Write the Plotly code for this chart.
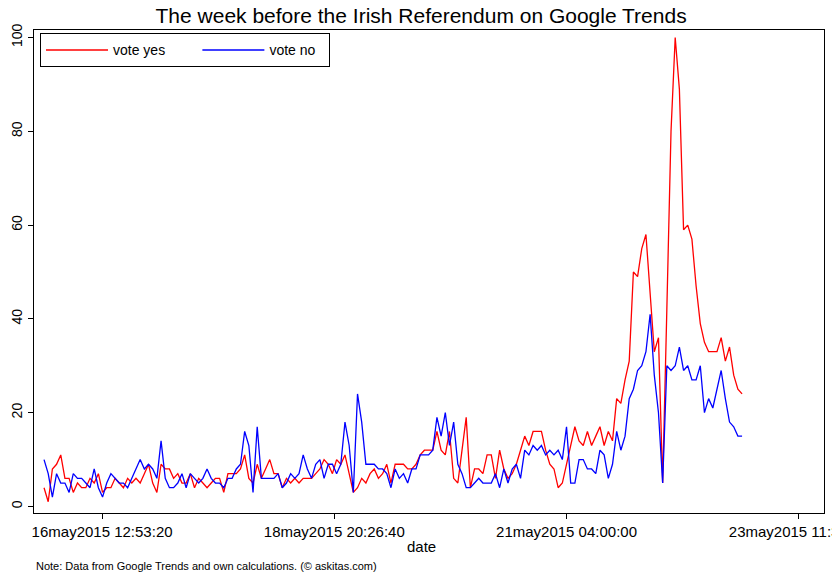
import pandas as pd
import plotly.graph_objects as go

# hourly Google Trends index, one week
start_time = "2015-05-15 23:00"
n_hours = 168

vote_yes = [
    4, 1, 8, 9, 11, 6, 6, 3, 5, 4, 4, 6, 5, 7, 3, 4, 4, 6, 5, 4, 6, 5, 6, 5, 7, 9, 5,
    3, 9, 8, 8, 6, 7, 5, 5, 7, 4, 6, 5, 4, 5, 6, 6, 3, 7, 7, 7, 8, 11, 6, 5, 9, 6, 8, 10, 7,
    7, 4, 6, 5, 6, 5, 6, 6, 6, 7, 8, 10, 9, 7, 10, 9, 11, 7, 3, 4, 6, 5, 7, 8, 6, 7, 9, 5,
    9, 9, 9, 8, 8, 9, 11, 12, 12, 12, 16, 12, 11, 16, 6, 5, 12, 19, 4, 8, 8, 7, 11, 11, 6, 12, 8, 6, 7,
    9, 12, 15, 13, 16, 16, 16, 12, 9, 8, 4, 5, 9, 13, 17, 14, 13, 16, 13, 15,
    17, 13, 16, 14, 23, 22, 27, 31, 50, 49, 55, 58, 46, 33, 36, 5, 42, 80, 100, 89,
    59, 60, 57, 47, 39, 35, 33, 33, 33, 36, 31, 34, 28, 25, 24,
]
vote_no = [
    10, 7, 2, 7, 5, 5, 3, 7, 6, 6, 5, 4, 8, 4, 2, 5, 7, 6, 5, 5, 4, 6, 8, 10, 8, 9, 8,
    6, 14, 6, 4, 4, 5, 7, 4, 7, 6, 5, 6, 8, 6, 5, 5, 4, 6, 6, 8, 9, 16, 13, 3, 17, 6, 6, 6, 6,
    7, 4, 5, 7, 6, 7, 11, 8, 6, 9, 10, 6, 9, 9, 7, 9, 18, 13, 3, 24, 18, 9, 9, 9, 8, 8, 7, 4,
    8, 6, 7, 5, 8, 8, 11, 11, 11, 12, 19, 15, 20, 13, 18, 9, 7, 4, 4, 5, 6, 5, 5, 5, 7, 4, 8, 5, 8,
    9, 6, 12, 11, 13, 12, 13, 11, 12, 11, 12, 10, 17, 5, 5, 10, 10, 8, 8, 7,
    12, 11, 6, 9, 16, 12, 15, 23, 25, 29, 30, 33, 41, 28, 20, 5, 30, 29, 30, 34,
    29, 30, 27, 27, 30, 20, 23, 21, 25, 29, 23, 18, 17, 15, 15,
]

x_tick_values = ["2015-05-16 12:53:20", "2015-05-18 20:26:40",
                 "2015-05-21 04:00:00", "2015-05-23 11:33:20"]
x_tick_labels = ["16may2015 12:53:20", "18may2015 20:26:40",
                 "21may2015 04:00:00", "23may2015 11:33:20"]
y_tick_values = [0, 20, 40, 60, 80, 100]

series_names = ["vote yes", "vote no"]
series_colors = ["#FF0000", "#0000FF"]

times = pd.date_range(start=start_time, periods=n_hours, freq="h")

FONT = "Liberation Sans, Arial, Helvetica, sans-serif"
NBSP = "\u00a0"
legend_pad = [NBSP * 7, NBSP * 2]

fig = go.Figure()
for name, vals, col, pad in zip(series_names, [vote_yes, vote_no], series_colors, legend_pad):
    fig.add_trace(go.Scatter(x=times, y=vals, mode="lines", name=name + pad,
                             line=dict(color=col, width=1.3)))

x_lo = times[0] - pd.Timedelta(hours=2.4)
x_hi = times[0] + pd.Timedelta(hours=186.6)

fig.update_layout(
    width=832, height=575,
    margin=dict(l=34, r=8, t=30, b=62, autoexpand=False),
    paper_bgcolor="white", plot_bgcolor="white",
    font=dict(family=FONT, size=14, color="black"),
    title=dict(text="The week before the Irish Referendum on Google Trends",
               x=0.49, xref="paper", xanchor="center", y=0.972, yref="container",
               yanchor="middle", font=dict(size=21, family=FONT, color="black")),
    showlegend=True,
    legend=dict(orientation="h", x=0.0076, y=0.993, xanchor="left", yanchor="top",
                bgcolor="white", bordercolor="black", borderwidth=1,
                font=dict(size=14, family=FONT), itemwidth=62,
                tracegroupgap=0),
    xaxis=dict(range=[x_lo, x_hi], tickvals=x_tick_values, ticktext=x_tick_labels,
               ticks="outside", ticklen=5, tickcolor="black", showline=True,
               linecolor="black", linewidth=1, mirror=True, showgrid=False,
               zeroline=False, tickfont=dict(size=15), ticklabeloverflow="allow",
               automargin=False),
    yaxis=dict(range=[-1.39, 101.6], tickvals=y_tick_values, ticks="outside",
               ticklen=5, tickcolor="black", showline=True, linecolor="black",
               linewidth=1, mirror=True, showgrid=False, zeroline=False,
               tickangle=-90, tickfont=dict(size=14), automargin=False),
)

fig.add_annotation(text="date", xref="paper", yref="paper", x=0.49, y=-0.07,
                   xanchor="center", yanchor="middle", showarrow=False,
                   font=dict(size=15, family=FONT, color="black"))
fig.add_annotation(text="Note: Data from Google Trends and own calculations. (© askitas.com)",
                   xref="paper", yref="paper", x=0.0, y=-0.109,
                   xanchor="left", yanchor="middle", showarrow=False,
                   font=dict(size=11, family=FONT, color="black"))

fig.write_html("out.html", config={"displayModeBar": False},
               post_script="document.body.style.margin='0';document.body.style.overflow='hidden';")
